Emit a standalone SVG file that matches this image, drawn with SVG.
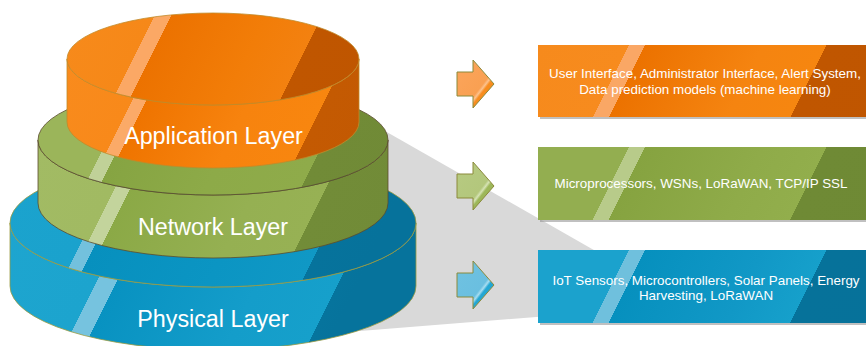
<svg xmlns="http://www.w3.org/2000/svg" width="866" height="346" viewBox="0 0 866 346">
<style>
.lbl{font-family:"Liberation Sans",Arial,sans-serif;font-size:23.3px;fill:#fff;text-anchor:middle}
.btx{font-family:"Liberation Sans",Arial,sans-serif;font-size:13.4px;fill:#fff;text-anchor:middle}
.arw{stroke:#8b8a3b;stroke-width:1;stroke-linejoin:miter}
.shd{fill:#8c8c8c;opacity:.55}
</style>
<defs>
<linearGradient id="gOT" gradientUnits="userSpaceOnUse" x1="0" y1="0" x2="400" y2="200">
<stop offset="0" stop-color="#F78C1E"/><stop offset="0.325" stop-color="#F68818"/>
<stop offset="0.325" stop-color="#FBA865"/><stop offset="0.358" stop-color="#FBA865"/>
<stop offset="0.358" stop-color="#EC7200"/><stop offset="0.55" stop-color="#F27D08"/>
<stop offset="0.66" stop-color="#F38110"/><stop offset="0.66" stop-color="#C05600"/>
<stop offset="1" stop-color="#BE5500"/>
</linearGradient>
<linearGradient id="gOS" gradientUnits="userSpaceOnUse" x1="0" y1="0" x2="400" y2="200">
<stop offset="0" stop-color="#F98D20"/><stop offset="0.365" stop-color="#F8891A"/>
<stop offset="0.365" stop-color="#FBAA68"/><stop offset="0.393" stop-color="#FBAA68"/>
<stop offset="0.393" stop-color="#EF7400"/><stop offset="0.6" stop-color="#F7830E"/>
<stop offset="0.75" stop-color="#F8860F"/><stop offset="0.75" stop-color="#C45A02"/>
<stop offset="1" stop-color="#C25803"/>
</linearGradient>
<linearGradient id="gGT" gradientUnits="userSpaceOnUse" x1="0" y1="0" x2="400" y2="200">
<stop offset="0" stop-color="#9BB55A"/><stop offset="0.355" stop-color="#9BB55A"/>
<stop offset="0.355" stop-color="#C0D198"/><stop offset="0.385" stop-color="#C0D198"/>
<stop offset="0.385" stop-color="#86A442"/><stop offset="0.6" stop-color="#8DAA48"/>
<stop offset="0.79" stop-color="#8FAB4A"/><stop offset="0.79" stop-color="#718B37"/>
<stop offset="1" stop-color="#708A36"/>
</linearGradient>
<linearGradient id="gGS" gradientUnits="userSpaceOnUse" x1="0" y1="0" x2="400" y2="200">
<stop offset="0" stop-color="#A3BC66"/><stop offset="0.418" stop-color="#A1BA62"/>
<stop offset="0.418" stop-color="#C3D49C"/><stop offset="0.449" stop-color="#C3D49C"/>
<stop offset="0.449" stop-color="#8BA946"/><stop offset="0.7" stop-color="#95B052"/>
<stop offset="0.84" stop-color="#97B154"/><stop offset="0.84" stop-color="#728C38"/>
<stop offset="1" stop-color="#718B37"/>
</linearGradient>
<linearGradient id="gBT" gradientUnits="userSpaceOnUse" x1="0" y1="0" x2="400" y2="200">
<stop offset="0" stop-color="#1CA4CE"/><stop offset="0.405" stop-color="#1AA2CD"/>
<stop offset="0.405" stop-color="#73C1DD"/><stop offset="0.435" stop-color="#73C1DD"/>
<stop offset="0.435" stop-color="#0790BE"/><stop offset="0.7" stop-color="#0B95C3"/>
<stop offset="0.885" stop-color="#1098C5"/><stop offset="0.885" stop-color="#06739C"/>
<stop offset="1" stop-color="#06729B"/>
</linearGradient>
<linearGradient id="gBS" gradientUnits="userSpaceOnUse" x1="0" y1="0" x2="400" y2="200">
<stop offset="0" stop-color="#1FA6D0"/><stop offset="0.475" stop-color="#1CA4CE"/>
<stop offset="0.475" stop-color="#76C3DF"/><stop offset="0.515" stop-color="#76C3DF"/>
<stop offset="0.515" stop-color="#0892C1"/><stop offset="0.8" stop-color="#149DCA"/>
<stop offset="0.96" stop-color="#16A0CB"/><stop offset="0.96" stop-color="#06749D"/>
<stop offset="1" stop-color="#06739C"/>
</linearGradient>
<linearGradient id="gBoxO" gradientUnits="userSpaceOnUse" x1="538" y1="45" x2="938" y2="245">
<stop offset="0" stop-color="#F68A1C"/><stop offset="0.182" stop-color="#F78B1E"/>
<stop offset="0.182" stop-color="#FAA765"/><stop offset="0.214" stop-color="#FAA765"/>
<stop offset="0.214" stop-color="#EC7200"/><stop offset="0.45" stop-color="#F58410"/>
<stop offset="0.577" stop-color="#F68610"/><stop offset="0.577" stop-color="#C05600"/>
<stop offset="1" stop-color="#BF5500"/>
</linearGradient>
<linearGradient id="gBoxG" gradientUnits="userSpaceOnUse" x1="538" y1="147" x2="938" y2="347">
<stop offset="0" stop-color="#93AE50"/><stop offset="0.182" stop-color="#93AE50"/>
<stop offset="0.182" stop-color="#B8CB8A"/><stop offset="0.214" stop-color="#B8CB8A"/>
<stop offset="0.214" stop-color="#86A340"/><stop offset="0.45" stop-color="#8FAB49"/>
<stop offset="0.577" stop-color="#92AE4C"/><stop offset="0.577" stop-color="#6F8A35"/>
<stop offset="1" stop-color="#6E8934"/>
</linearGradient>
<linearGradient id="gBoxB" gradientUnits="userSpaceOnUse" x1="538" y1="250" x2="938" y2="450">
<stop offset="0" stop-color="#1BA2CD"/><stop offset="0.182" stop-color="#1BA2CD"/>
<stop offset="0.182" stop-color="#6FC0DD"/><stop offset="0.214" stop-color="#6FC0DD"/>
<stop offset="0.214" stop-color="#0690BE"/><stop offset="0.45" stop-color="#1198C6"/>
<stop offset="0.577" stop-color="#16A0CB"/><stop offset="0.577" stop-color="#06729A"/>
<stop offset="1" stop-color="#06719A"/>
</linearGradient>
<linearGradient id="gAO" x1="0" y1="0" x2="1" y2="1">
<stop offset="0" stop-color="#FBA55C"/><stop offset="0.6" stop-color="#F9A052"/>
<stop offset="0.64" stop-color="#FCC28E"/><stop offset="0.68" stop-color="#F78D20"/>
<stop offset="1" stop-color="#F5850F"/>
</linearGradient>
<linearGradient id="gAG" x1="0" y1="0" x2="1" y2="1">
<stop offset="0" stop-color="#B7CA82"/><stop offset="0.6" stop-color="#B3C77C"/>
<stop offset="0.64" stop-color="#D6E3B5"/><stop offset="0.68" stop-color="#9DB75A"/>
<stop offset="1" stop-color="#98B454"/>
</linearGradient>
<linearGradient id="gAB" x1="0" y1="0" x2="1" y2="1">
<stop offset="0" stop-color="#70C2E1"/><stop offset="0.6" stop-color="#6ABFE0"/>
<stop offset="0.64" stop-color="#A8DDF0"/><stop offset="0.68" stop-color="#25A7D3"/>
<stop offset="1" stop-color="#1DA2D0"/>
</linearGradient>
</defs>

<g id="projection">
<polygon points="385,131 650,282 650,308 360,331" fill="#D9D9D9"/>
</g>

<g id="phy-layer">
<path d="M10,223 L10,286 A203,64 0 0 0 416,286 L416,223 A203,64 0 0 1 10,223 Z" fill="url(#gBS)" stroke="#9a9a40" stroke-width="0.8"/>
<ellipse cx="213" cy="223" rx="203" ry="64" fill="url(#gBT)" stroke="#9a9a40" stroke-width="0.8"/>
<text class="lbl" x="213" y="327">Physical Layer</text>
</g>

<g id="net-layer">
<path d="M38,140 L38,203 A175,55 0 0 0 388,203 L388,140 A175,55 0 0 1 38,140 Z" fill="url(#gGS)" stroke="#5b4b2e" stroke-width="0.8"/>
<ellipse cx="213" cy="140" rx="175" ry="55" fill="url(#gGT)" stroke="#5b4b2e" stroke-width="0.8"/>
<text class="lbl" x="213" y="235">Network Layer</text>
</g>

<g id="app-layer">
<path d="M67,59 L67,122 A146,46 0 0 0 359,122 L359,59 A146,46 0 0 1 67,59 Z" fill="url(#gOS)" stroke="#c08a2a" stroke-width="0.8"/>
<ellipse cx="213" cy="59" rx="146" ry="46" fill="url(#gOT)" stroke="#c08a2a" stroke-width="0.8"/>
<text class="lbl" x="213.5" y="144">Application Layer</text>
</g>

<g id="connectors">
<polygon class="arw" fill="url(#gAO)" points="457,72 473,72 473,60 494,84 473,108 473,96 457,96"/>
<polygon class="arw" fill="url(#gAG)" points="457,174 473,174 473,162 494,186 473,210 473,198 457,198"/>
<polygon class="arw" fill="url(#gAB)" points="457,273 473,273 473,261 494,285 473,309 473,297 457,297"/>
</g>

<g id="box-app">
<rect class="shd" x="540" y="47" width="340" height="72"/>
<rect x="538" y="45" width="340" height="72" fill="url(#gBoxO)"/>
<text class="btx" x="705" y="78">User Interface, Administrator Interface, Alert System,</text>
<text class="btx" x="705" y="94">Data prediction models (machine learning)</text>
</g>

<g id="box-net">
<rect class="shd" x="540" y="149" width="340" height="73"/>
<rect x="538" y="147" width="340" height="73" fill="url(#gBoxG)"/>
<text class="btx" x="701" y="188">Microprocessors, WSNs, LoRaWAN, TCP/IP SSL</text>
</g>

<g id="box-phy">
<rect class="shd" x="540" y="252" width="340" height="73"/>
<rect x="538" y="250" width="340" height="73" fill="url(#gBoxB)"/>
<text class="btx" x="706" y="285">IoT Sensors, Microcontrollers, Solar Panels, Energy</text>
<text class="btx" x="706" y="300">Harvesting, LoRaWAN</text>
</g>
</svg>
